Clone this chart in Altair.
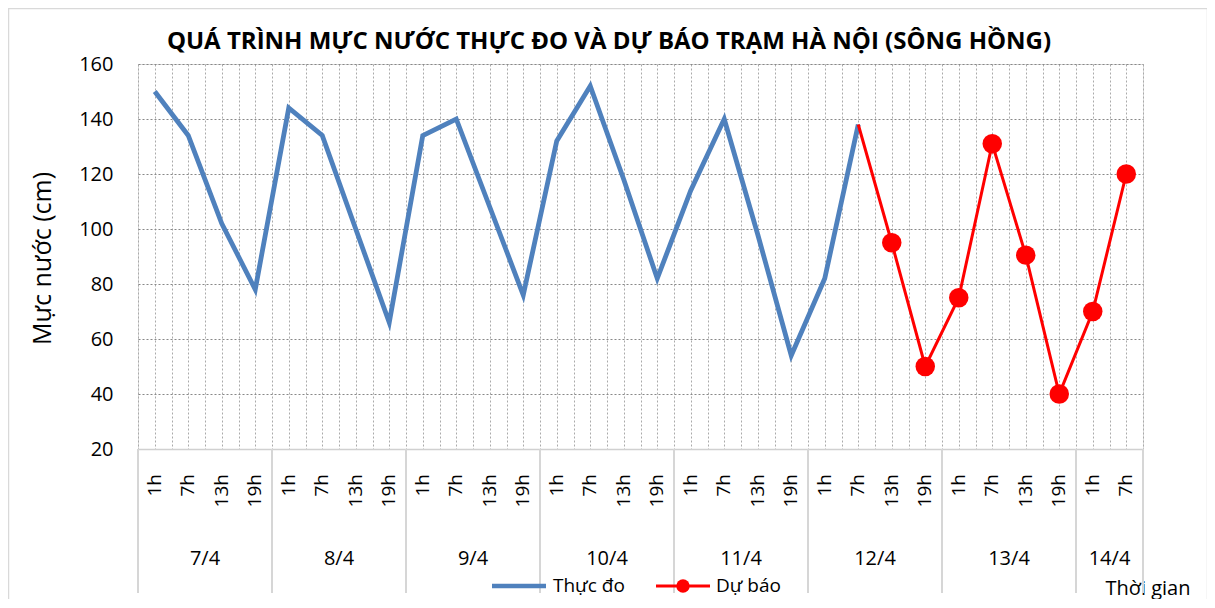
import altair as alt
import pandas as pd
import numpy as np

# ---------------- data ----------------
dates = ["7/4", "8/4", "9/4", "10/4", "11/4", "12/4", "13/4", "14/4"]
hours_per_date = [["1h", "7h", "13h", "19h"]] * 7 + [["1h", "7h"]]
observed = [150, 134, 102, 78,
            144, 134, 100, 66,
            134, 140, 108, 76,
            132, 152, 118, 82,
            114, 140, 98, 54,
            82, 138]
# forecast starts at the last observed point (12/4 7h)
forecast = [138, 95, 50, 75, 131, 90.5, 40, 70, 120]
series_names = ["Thực đo", "Dự báo"]
title_text = "QUÁ TRÌNH MỰC NƯỚC THỰC ĐO VÀ DỰ BÁO TRẠM HÀ NỘI (SÔNG HỒNG)"
y_title = "Mực nước (cm)"
x_title = "Thời gian"
y_ticks = [20, 40, 60, 80, 100, 120, 140, 160]

# ---------------- tables ----------------
hour_rows, date_rows, bounds = [], [], [-0.5]
i = 0
for d, hs in zip(dates, hours_per_date):
    start = i
    for h in hs:
        hour_rows.append({"i": i, "hour": h})
        i += 1
    date_rows.append({"c": (start + i - 1) / 2, "date": d})
    bounds.append(i - 0.5)
n_cat = i
hour_df = pd.DataFrame(hour_rows)
date_df = pd.DataFrame(date_rows)
bound_df = pd.DataFrame({"b": bounds})
obs_df = pd.DataFrame({"i": list(range(len(observed))), "v": observed})
f0 = len(observed) - 1
fc_df = pd.DataFrame({"i": list(range(f0, f0 + len(forecast))), "v": forecast})
fc_pts = fc_df.iloc[1:]

W, H = 1005, 385
FONT = "Open Sans"
xs = alt.Scale(domain=[-0.5, n_cat - 0.5], nice=False, zero=False)
ys = alt.Scale(domain=[20, 160], nice=False, zero=False)
grid_vals = [float(v) for v in np.arange(-0.5, n_cat - 0.5 + 0.01, 0.5)]

x_axis = alt.Axis(values=grid_vals, grid=True, gridDash=[2, 2], gridColor="#aaaaaa",
                  gridWidth=1, labels=False, ticks=False, domain=True,
                  domainColor="#d0d0d0", domainWidth=1.5,
                  title=x_title, titleFont=FONT, titleFontSize=20,
                  titleFontWeight="normal", titleColor="black",
                  titleX=1052, titleY=139, titleAlign="right", titleBaseline="middle")
y_axis = alt.Axis(values=y_ticks, grid=True, gridDash=[2, 2], gridColor="#888888",
                  gridWidth=1.2, ticks=False, domain=False, labelFont=FONT,
                  labelFontSize=20, labelColor="black", labelPadding=25,
                  title=y_title, titleFont=FONT, titleFontSize=25,
                  titleFontWeight="normal", titleColor="black", titleAngle=270,
                  titleX=-96, titleY=194, titleAlign="center", titleBaseline="middle")

obs_line = alt.Chart(obs_df).mark_line(color="#4f81bd", strokeWidth=4.8).encode(
    x=alt.X("i:Q", scale=xs, axis=x_axis),
    y=alt.Y("v:Q", scale=ys, axis=y_axis),
)
fc_line = alt.Chart(fc_df).mark_line(color="#ff0000", strokeWidth=3).encode(
    x=alt.X("i:Q", scale=xs, axis=None),
    y=alt.Y("v:Q", scale=ys, axis=None),
)
fc_point = alt.Chart(fc_pts).mark_point(filled=True, color="#ff0000", opacity=1, size=380).encode(
    x=alt.X("i:Q", scale=xs, axis=None),
    y=alt.Y("v:Q", scale=ys, axis=None),
)

sep = alt.Chart(bound_df).mark_rule(color="#d6d6d6", strokeWidth=2).encode(
    x=alt.X("b:Q", scale=xs, axis=None),
    y=alt.value(H), y2=alt.value(H + 144),
)
hour_txt = alt.Chart(hour_df).mark_text(font=FONT, fontSize=19, angle=270, align="right",
                                         baseline="middle", color="black").encode(
    x=alt.X("i:Q", scale=xs, axis=None),
    y=alt.value(H + 25),
    text="hour:N",
)
date_txt = alt.Chart(date_df).mark_text(font=FONT, fontSize=20, align="center",
                                         baseline="middle", color="black").encode(
    x=alt.X("c:Q", scale=xs, axis=None),
    y=alt.value(H + 110),
    text="date:N",
)

title = alt.Chart(pd.DataFrame({"t": [title_text]})).mark_text(
    font=FONT, fontSize=24, fontWeight="bold", align="center", baseline="middle", color="black"
).encode(x=alt.value(471), y=alt.value(-22), text="t:N")

border = alt.Chart(pd.DataFrame({"k": [0]})).mark_rect(
    fillOpacity=0, stroke="#d9d9d9", strokeWidth=1.5
).encode(x=alt.value(-129.5), x2=alt.value(1069.5), y=alt.value(-55.5), y2=alt.value(700))

# legend (manual, below the axis)
leg_y = H + 137
leg1_line = alt.Chart(pd.DataFrame({"k": [0]})).mark_rule(color="#4f81bd", strokeWidth=4.5).encode(
    x=alt.value(354), x2=alt.value(408), y=alt.value(leg_y))
leg1_txt = alt.Chart(pd.DataFrame({"t": [series_names[0]]})).mark_text(
    font=FONT, fontSize=19, align="left", baseline="middle", color="black"
).encode(x=alt.value(415), y=alt.value(leg_y), text="t:N")
leg2_line = alt.Chart(pd.DataFrame({"k": [0]})).mark_rule(color="#ff0000", strokeWidth=3).encode(
    x=alt.value(518), x2=alt.value(572), y=alt.value(leg_y))
leg2_pt = alt.Chart(pd.DataFrame({"k": [0]})).mark_point(
    filled=True, color="#ff0000", opacity=1, size=180
).encode(x=alt.value(545), y=alt.value(leg_y))
leg2_txt = alt.Chart(pd.DataFrame({"t": [series_names[1]]})).mark_text(
    font=FONT, fontSize=19, align="left", baseline="middle", color="black"
).encode(x=alt.value(578), y=alt.value(leg_y), text="t:N")

chart = alt.layer(
    obs_line, border, sep, hour_txt, date_txt, title,
    fc_line, fc_point,
    leg1_line, leg1_txt, leg2_line, leg2_pt, leg2_txt,
).resolve_axis(x="independent", y="independent").properties(
    width=W, height=H,
    autosize=alt.AutoSizeParams(type="none"),
    padding={"left": 130, "top": 56, "right": 64, "bottom": 150},
).configure_view(strokeWidth=0).configure(background="white")

chart.save("out.html", embed_options={"renderer": "svg", "actions": False})
